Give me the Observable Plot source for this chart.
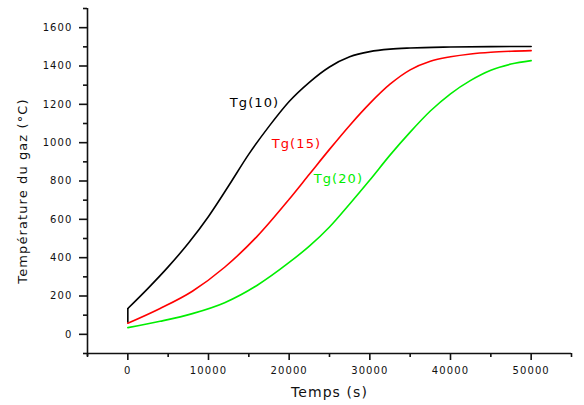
<!DOCTYPE html>
<html><head><meta charset="utf-8">
<script src="https://cdn.jsdelivr.net/npm/d3@7"></script>
<script src="https://cdn.jsdelivr.net/npm/@observablehq/plot@0.6"></script>
<style>
body{margin:0;background:#fff}
svg text{letter-spacing:1.1px}
</style>
</head><body><div id="chart"></div>
<script>
const seriesNames = ["Tg(10)", "Tg(15)", "Tg(20)"];
const seriesColors = ["#000000", "#ff0000", "#00ee00"];

const tg10Time = [0, 2500, 5000, 7500, 10000, 12500, 15000, 17500, 20000, 22500, 25000, 27500, 30000, 32500, 35000, 40000, 45000, 50000];
const tg10Temp = [135, 240, 352, 475, 615, 775, 940, 1085, 1215, 1315, 1395, 1448, 1475, 1488, 1494, 1499, 1501, 1502];
// initial vertical jump of Tg(10) at t = 0
const tg10JumpTime = [0];
const tg10JumpLow = [58];
const tg10JumpHigh = [135];

const tg15Time = [0, 4000, 8000, 12000, 16000, 20000, 22500, 25000, 27500, 30000, 32500, 35000, 37500, 40000, 42500, 45000, 47500, 50000];
const tg15Temp = [58, 135, 225, 350, 510, 705, 835, 965, 1090, 1205, 1305, 1380, 1425, 1448, 1463, 1472, 1477, 1480];

const tg20Time = [0, 4000, 8000, 12000, 16000, 20000, 22500, 25000, 27500, 30000, 32500, 35000, 37500, 40000, 42500, 45000, 47500, 50000];
const tg20Temp = [35, 68, 108, 165, 255, 375, 460, 560, 680, 805, 935, 1055, 1165, 1255, 1325, 1378, 1410, 1428];

const labelTime = [15700, 20900, 26100];
const labelTemp = [1210, 996, 813];

const xMajorTicks = [0, 10000, 20000, 30000, 40000, 50000];
const xMinorTicks = [-5000, 5000, 15000, 25000, 35000, 45000, 55000];
const yMajorTicks = [0, 200, 400, 600, 800, 1000, 1200, 1400, 1600];
const yMinorTicks = [-100, 100, 300, 500, 700, 900, 1100, 1300, 1500, 1700];

const xTitle = "Temps (s)";
const yTitle = "Température du gaz (°C)";

const allTimes = [tg10Time, tg15Time, tg20Time];
const allTemps = [tg10Temp, tg15Temp, tg20Temp];
const rows = [];
seriesNames.forEach((s, i) => {
  allTimes[i].forEach((t, j) => rows.push({s, t, v: allTemps[i][j]}));
});
const jumps = tg10JumpTime.map((t, i) => ({t, lo: tg10JumpLow[i], hi: tg10JumpHigh[i]}));
const labels = seriesNames.map((s, i) => ({s, t: labelTime[i], v: labelTemp[i]}));

const chart = Plot.plot({
  width: 584,
  height: 405,
  marginLeft: 87,
  marginRight: 13,
  marginTop: 8,
  marginBottom: 52,
  style: {fontFamily: "DejaVu Sans", fontSize: "10px", background: "#fff", color: "#111"},
  x: {domain: [-5000, 55000]},
  y: {domain: [-100, 1700]},
  color: {domain: seriesNames, range: seriesColors},
  marks: [
    Plot.axisX({ticks: xMajorTicks, tickSize: 7, tickPadding: 6, strokeWidth: 1.6, label: null, tickFormat: d3.format("d"), fontSize: 10}),
    Plot.axisX({ticks: xMinorTicks, tickSize: 4, strokeWidth: 1.6, label: null, text: null}),
    Plot.axisY({ticks: yMajorTicks, tickSize: 8, tickPadding: 7, strokeWidth: 1.6, label: null, tickFormat: d3.format("d"), fontSize: 10}),
    Plot.axisY({ticks: yMinorTicks, tickSize: 4, strokeWidth: 1.6, label: null, text: null}),
    Plot.ruleX([-5000], {strokeWidth: 1.6, insetBottom: -3}),
    Plot.ruleY([-100], {strokeWidth: 1.6}),
    Plot.ruleX(jumps, {x: "t", y1: "lo", y2: "hi", stroke: seriesColors[0], strokeWidth: 1.6}),
    Plot.line(rows, {x: "t", y: "v", z: "s", stroke: "s", strokeWidth: 1.6, curve: "monotone-x"}),
    Plot.text(labels, {x: "t", y: "v", text: "s", fill: "s", fontSize: 13}),
    Plot.text([xTitle], {frameAnchor: "bottom", dy: 43, fontSize: 14, fill: "#111", textAnchor: "middle"}),
    Plot.text([yTitle], {frameAnchor: "left", dx: -65, dy: 10, rotate: -90, fontSize: 13, fill: "#111", textAnchor: "middle"})
  ]
});
document.getElementById("chart").appendChild(chart);
</script>
</body></html>
